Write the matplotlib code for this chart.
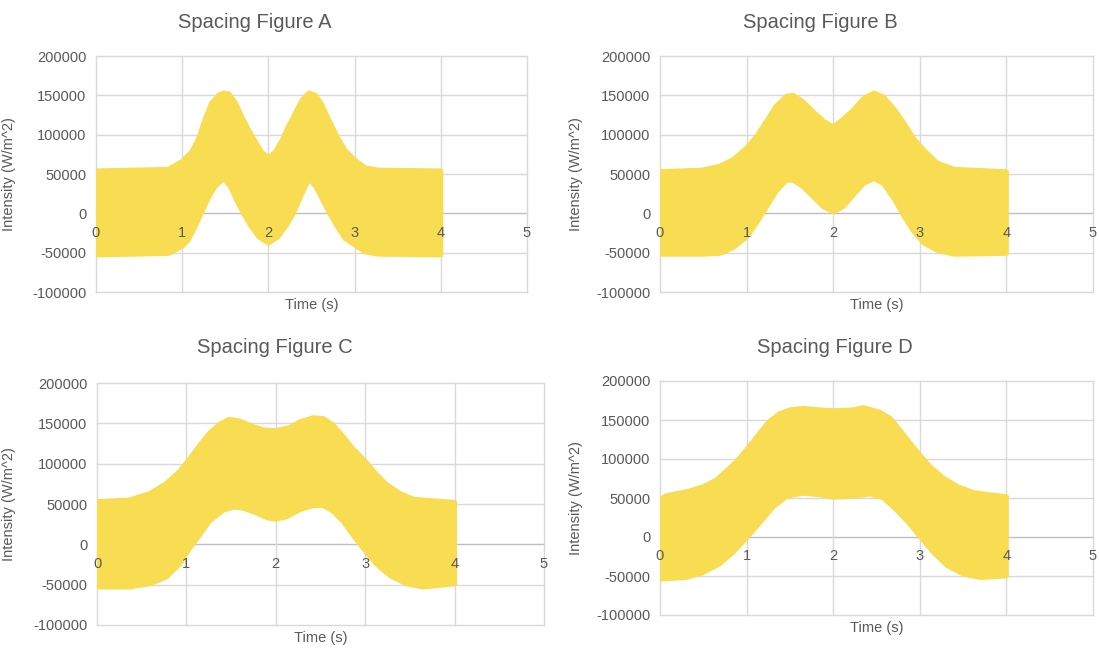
import matplotlib
matplotlib.use("Agg")
import matplotlib.pyplot as plt

plt.rcParams["font.family"] = ["Liberation Sans", "DejaVu Sans"]

# -------------------------------
# DATA (envelope of the oscillating intensity)
# -------------------------------
t_a = [0, 0.84, 1.0, 1.11, 1.19, 1.27, 1.34, 1.42, 1.48, 1.54, 1.62, 1.69, 1.77, 1.85, 1.92, 2.0,
       2.08, 2.16, 2.23, 2.31, 2.39, 2.47, 2.55, 2.62, 2.7, 2.8, 2.89, 3.0, 3.12, 3.28, 4.0]
up_a = [54000, 56000, 66000, 78000, 95000, 121000, 140000, 150000, 153000, 152000, 140000, 123000, 106000, 91000, 78000, 71000,
        78000, 93000, 110000, 127000, 144000, 153000, 150000, 138000, 119000, 97000, 80000, 68000, 58000, 55000, 54000]
t_a_lo = [0, 0.84, 1.0, 1.07, 1.15, 1.22, 1.3, 1.38, 1.48, 1.56, 1.63, 1.71, 1.79, 1.89, 2.0,
          2.11, 2.21, 2.29, 2.39, 2.47, 2.55, 2.62, 2.7, 2.8, 2.89, 3.0, 3.12, 3.28, 4.0]
lo_a = [-53000, -51000, -42000, -34000, -17000, 0, 19000, 34000, 44000, 34000, 17000, 0, -15000, -30000, -38000,
        -30000, -15000, 0, 25000, 44000, 34000, 19000, 2000, -17000, -32000, -40000, -49000, -52000, -53000]

t_b = [0, 0.49, 0.69, 0.84, 1.0, 1.11, 1.23, 1.34, 1.46, 1.54, 1.65, 1.77, 1.89, 2.0,
       2.11, 2.23, 2.35, 2.47, 2.58, 2.7, 2.82, 2.93, 3.05, 3.2, 3.4, 4.0]
up_b = [53000, 55000, 60000, 68000, 83000, 97000, 117000, 136000, 149000, 150000, 142000, 129000, 117000, 110000,
        119000, 131000, 146000, 153000, 148000, 133000, 114000, 95000, 80000, 64000, 56000, 53000]
lo_b = [-52000, -52000, -51000, -44000, -30000, -13000, 8000, 28000, 42000, 42000, 34000, 21000, 8000, 2000,
        8000, 23000, 38000, 44000, 38000, 19000, -4000, -23000, -38000, -47000, -52000, -51000]

t_c = [0, 0.36, 0.59, 0.77, 0.92, 1.03, 1.15, 1.26, 1.37, 1.48, 1.59, 1.75, 1.86, 2.0,
       2.16, 2.27, 2.42, 2.53, 2.64, 2.75, 2.86, 3.0, 3.13, 3.24, 3.39, 3.54, 4.0]
up_c = [53000, 55000, 63000, 75000, 90000, 105000, 123000, 138000, 149000, 155000, 153000, 146000, 142000, 141000,
        145000, 152000, 157000, 156000, 148000, 134000, 119000, 103000, 86000, 74000, 63000, 56000, 52000]
t_c_lo = [0, 0.36, 0.59, 0.77, 0.92, 1.03, 1.15, 1.26, 1.41, 1.52, 1.63, 1.78, 1.9, 2.0,
          2.12, 2.27, 2.42, 2.53, 2.64, 2.75, 2.86, 3.0, 3.13, 3.28, 3.46, 3.65, 4.0]
lo_c = [-53000, -53000, -49000, -41000, -25000, -6000, 12000, 29000, 42000, 46000, 45000, 39000, 33000, 31000,
        34000, 43000, 48000, 48000, 41000, 29000, 12000, -8000, -25000, -39000, -49000, -53000, -49000]

t_d = [0, 0.07, 0.3, 0.49, 0.65, 0.8, 0.92, 1.03, 1.15, 1.26, 1.38, 1.5, 1.65, 1.85, 2.0,
       2.23, 2.35, 2.54, 2.66, 2.77, 2.89, 3.0, 3.12, 3.28, 3.43, 3.62, 3.81, 4.0]
up_d = [48000, 53000, 58000, 64000, 73000, 88000, 101000, 116000, 133000, 148000, 158000, 163000, 165000, 163000, 162000,
        163000, 166000, 160000, 152000, 137000, 120000, 105000, 90000, 75000, 65000, 57000, 54000, 52000]
t_d_lo = [0, 0.3, 0.49, 0.68, 0.84, 1.0, 1.15, 1.31, 1.46, 1.65, 1.85, 2.0,
          2.23, 2.43, 2.58, 2.73, 2.89, 3.0, 3.16, 3.32, 3.51, 3.71, 4.0]
lo_d = [-54000, -52000, -46000, -35000, -20000, -1000, 18000, 39000, 52000, 56000, 54000, 51000,
        52000, 55000, 50000, 35000, 16000, 1000, -20000, -37000, -48000, -52000, -50000]

titles = ["Spacing Figure A", "Spacing Figure B", "Spacing Figure C", "Spacing Figure D"]
x_ticks = [0, 1, 2, 3, 4, 5]
y_ticks = [-100000, -50000, 0, 50000, 100000, 150000, 200000]

# -------------------------------
# STYLE
# -------------------------------
fill_color = "#F8DC52"
text_color = "#595959"
grid_color = "#D9D9D9"
zero_color = "#BFBFBF"

# axes boxes in pixels: left, top, right, bottom, title centre x, title y, ylabel x
W, H = 1099, 650
boxes = [
    (96, 56, 527, 292, 255, 22, 16),
    (660, 56, 1093, 292, 820, 22, 583),
    (97, 383, 544, 625, 275, 347, 16),
    (660, 381, 1093, 615, 835, 347, 583),
]
series = [
    (t_a, up_a, t_a_lo, lo_a),
    (t_b, up_b, t_b, lo_b),
    (t_c, up_c, t_c_lo, lo_c),
    (t_d, up_d, t_d_lo, lo_d),
]

fig = plt.figure(figsize=(W / 100, H / 100), dpi=100)

for (l, top, r, b, tx, ty, yx), (tu, up, tl, lo), title in zip(boxes, series, titles):
    ax = fig.add_axes([l / W, 1 - b / H, (r - l) / W, (b - top) / H])
    ax.set_xlim(0, 5)
    ax.set_ylim(-100000, 200000)

    # gridlines under the data
    for y in y_ticks:
        ax.axhline(y, color=zero_color if y == 0 else grid_color, lw=1, zorder=0, clip_on=False)
    for x in x_ticks:
        ax.axvline(x, color=grid_color, lw=1, zorder=0, clip_on=False)

    # envelope polygon: upper edge left->right, lower edge right->left
    px = list(tu) + list(tl)[::-1]
    py = list(up) + list(lo)[::-1]
    ax.fill(px, py, color=fill_color, edgecolor=fill_color, lw=3.5, joinstyle="round", zorder=1)

    for s in ["top", "right", "left"]:
        ax.spines[s].set_visible(False)
    ax.spines["bottom"].set_position(("data", 0))
    ax.spines["bottom"].set_visible(False)

    ax.set_xticks(x_ticks)
    ax.set_yticks(y_ticks)
    ax.set_yticklabels([str(v) for v in y_ticks])
    ax.tick_params(axis="x", length=0, pad=9, labelsize=10.5, labelcolor=text_color)
    ax.tick_params(axis="y", length=0, pad=7, labelsize=10.5, labelcolor=text_color)

    ax.set_ylabel("Intensity (W/m^2)", fontsize=10.5, color=text_color)
    ax.yaxis.set_label_coords((yx - l) / (r - l), 0.5)
    ax.set_xlabel("Time (s)", fontsize=10.5, color=text_color)
    ax.xaxis.set_label_coords(0.5, -13 / (b - top))
    ax.xaxis.label.set_va("center")

    ax.text((tx - l) / (r - l), 1 + (top - ty) / (b - top), title,
            transform=ax.transAxes, ha="center", va="center",
            fontsize=14.5, color=text_color)

plt.savefig("out.png", dpi=100)
plt.close()
